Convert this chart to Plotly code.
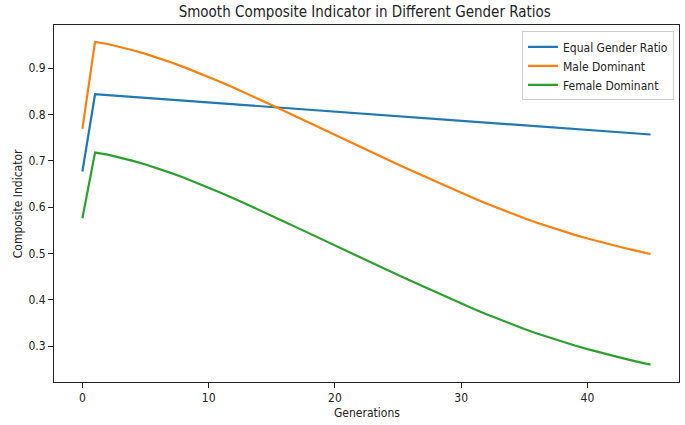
import plotly.graph_objects as go

generations = list(range(46))

equal_ratio = [0.677, 0.844, 0.842, 0.840, 0.838, 0.836, 0.834, 0.832, 0.830, 0.828,
               0.826, 0.824, 0.822, 0.820, 0.818, 0.816, 0.814, 0.812, 0.810, 0.808,
               0.806, 0.804, 0.802, 0.800, 0.798, 0.796, 0.794, 0.792, 0.790, 0.788,
               0.786, 0.784, 0.782, 0.780, 0.778, 0.776, 0.774, 0.772, 0.770, 0.768,
               0.766, 0.764, 0.762, 0.760, 0.758, 0.757]

male_dominant = [0.769, 0.957, 0.9525, 0.9463, 0.9390, 0.9312, 0.9225, 0.9131, 0.9031, 0.8925,
                 0.8814, 0.8699, 0.8580, 0.8458, 0.8333, 0.8206, 0.8078, 0.7949, 0.7819, 0.7689,
                 0.7559, 0.7430, 0.7302, 0.7175, 0.7049, 0.6924, 0.6799, 0.6675, 0.6552, 0.6430,
                 0.6310, 0.6193, 0.6079, 0.5969, 0.5863, 0.5761, 0.5664, 0.5572, 0.5485, 0.5403,
                 0.5325, 0.5251, 0.5181, 0.5114, 0.5050, 0.4989]

female_dominant = [0.576, 0.718, 0.7135, 0.7073, 0.7000, 0.6922, 0.6835, 0.6741, 0.6641, 0.6535,
                   0.6424, 0.6309, 0.6190, 0.6068, 0.5943, 0.5816, 0.5688, 0.5559, 0.5429, 0.5299,
                   0.5169, 0.5040, 0.4912, 0.4785, 0.4659, 0.4534, 0.4409, 0.4285, 0.4162, 0.4040,
                   0.3920, 0.3803, 0.3689, 0.3579, 0.3473, 0.3371, 0.3274, 0.3182, 0.3095, 0.3013,
                   0.2935, 0.2861, 0.2791, 0.2724, 0.2660, 0.2599]

series_names = ["Equal Gender Ratio", "Male Dominant", "Female Dominant"]
series_colors = ["#1f77b4", "#ff7f0e", "#2ca02c"]
x_ticks = [0, 10, 20, 30, 40]
y_ticks = [0.3, 0.4, 0.5, 0.6, 0.7, 0.8, 0.9]

FONT = "DejaVu Sans Condensed, DejaVu Sans, sans-serif"
TXT = "#222"

fig = go.Figure()
for name, vals, col in zip(series_names, [equal_ratio, male_dominant, female_dominant], series_colors):
    fig.add_trace(go.Scatter(x=generations, y=vals, mode="lines", name=name,
                             line=dict(color=col, width=2.2)))

axis_common = dict(showline=True, linecolor=TXT, linewidth=1, mirror=True,
                   ticks="outside", ticklen=5, tickcolor=TXT, showgrid=False,
                   zeroline=False, automargin=False,
                   tickfont=dict(size=12, color=TXT, family=FONT))

fig.update_layout(
    width=685, height=425,
    margin=dict(l=54, r=6, t=25, b=43, autoexpand=False),
    paper_bgcolor="white", plot_bgcolor="white",
    font=dict(family=FONT, color=TXT),
    title=dict(text="Smooth Composite Indicator in Different Gender Ratios",
               x=0.5325, xanchor="center", y=0.972, yanchor="middle",
               font=dict(size=15, family=FONT, color=TXT)),
    xaxis=dict(range=[-2.25, 47.25], tickvals=x_ticks, **axis_common),
    yaxis=dict(range=[0.2225, 0.9935], tickvals=y_ticks, tickformat=".1f", **axis_common),
    legend=dict(x=0.992, y=0.982, xanchor="right", yanchor="top",
                bgcolor="rgba(255,255,255,0.9)", bordercolor="#cccccc", borderwidth=1,
                font=dict(size=12, family=FONT, color=TXT),
                tracegroupgap=0, itemwidth=30),
    showlegend=True,
    annotations=[
        dict(text="Generations", xref="paper", yref="paper", x=0.5, y=-0.0868,
             xanchor="center", yanchor="middle", showarrow=False,
             font=dict(size=12, family=FONT, color=TXT)),
        dict(text="Composite Indicator", xref="paper", yref="paper", x=-0.058, y=0.5,
             xanchor="center", yanchor="middle", showarrow=False, textangle=-90,
             font=dict(size=12, family=FONT, color=TXT)),
    ],
)

fig.write_html("out.html", config={"displayModeBar": False},
               post_script="document.body.style.margin='0';document.body.style.overflow='hidden';")
